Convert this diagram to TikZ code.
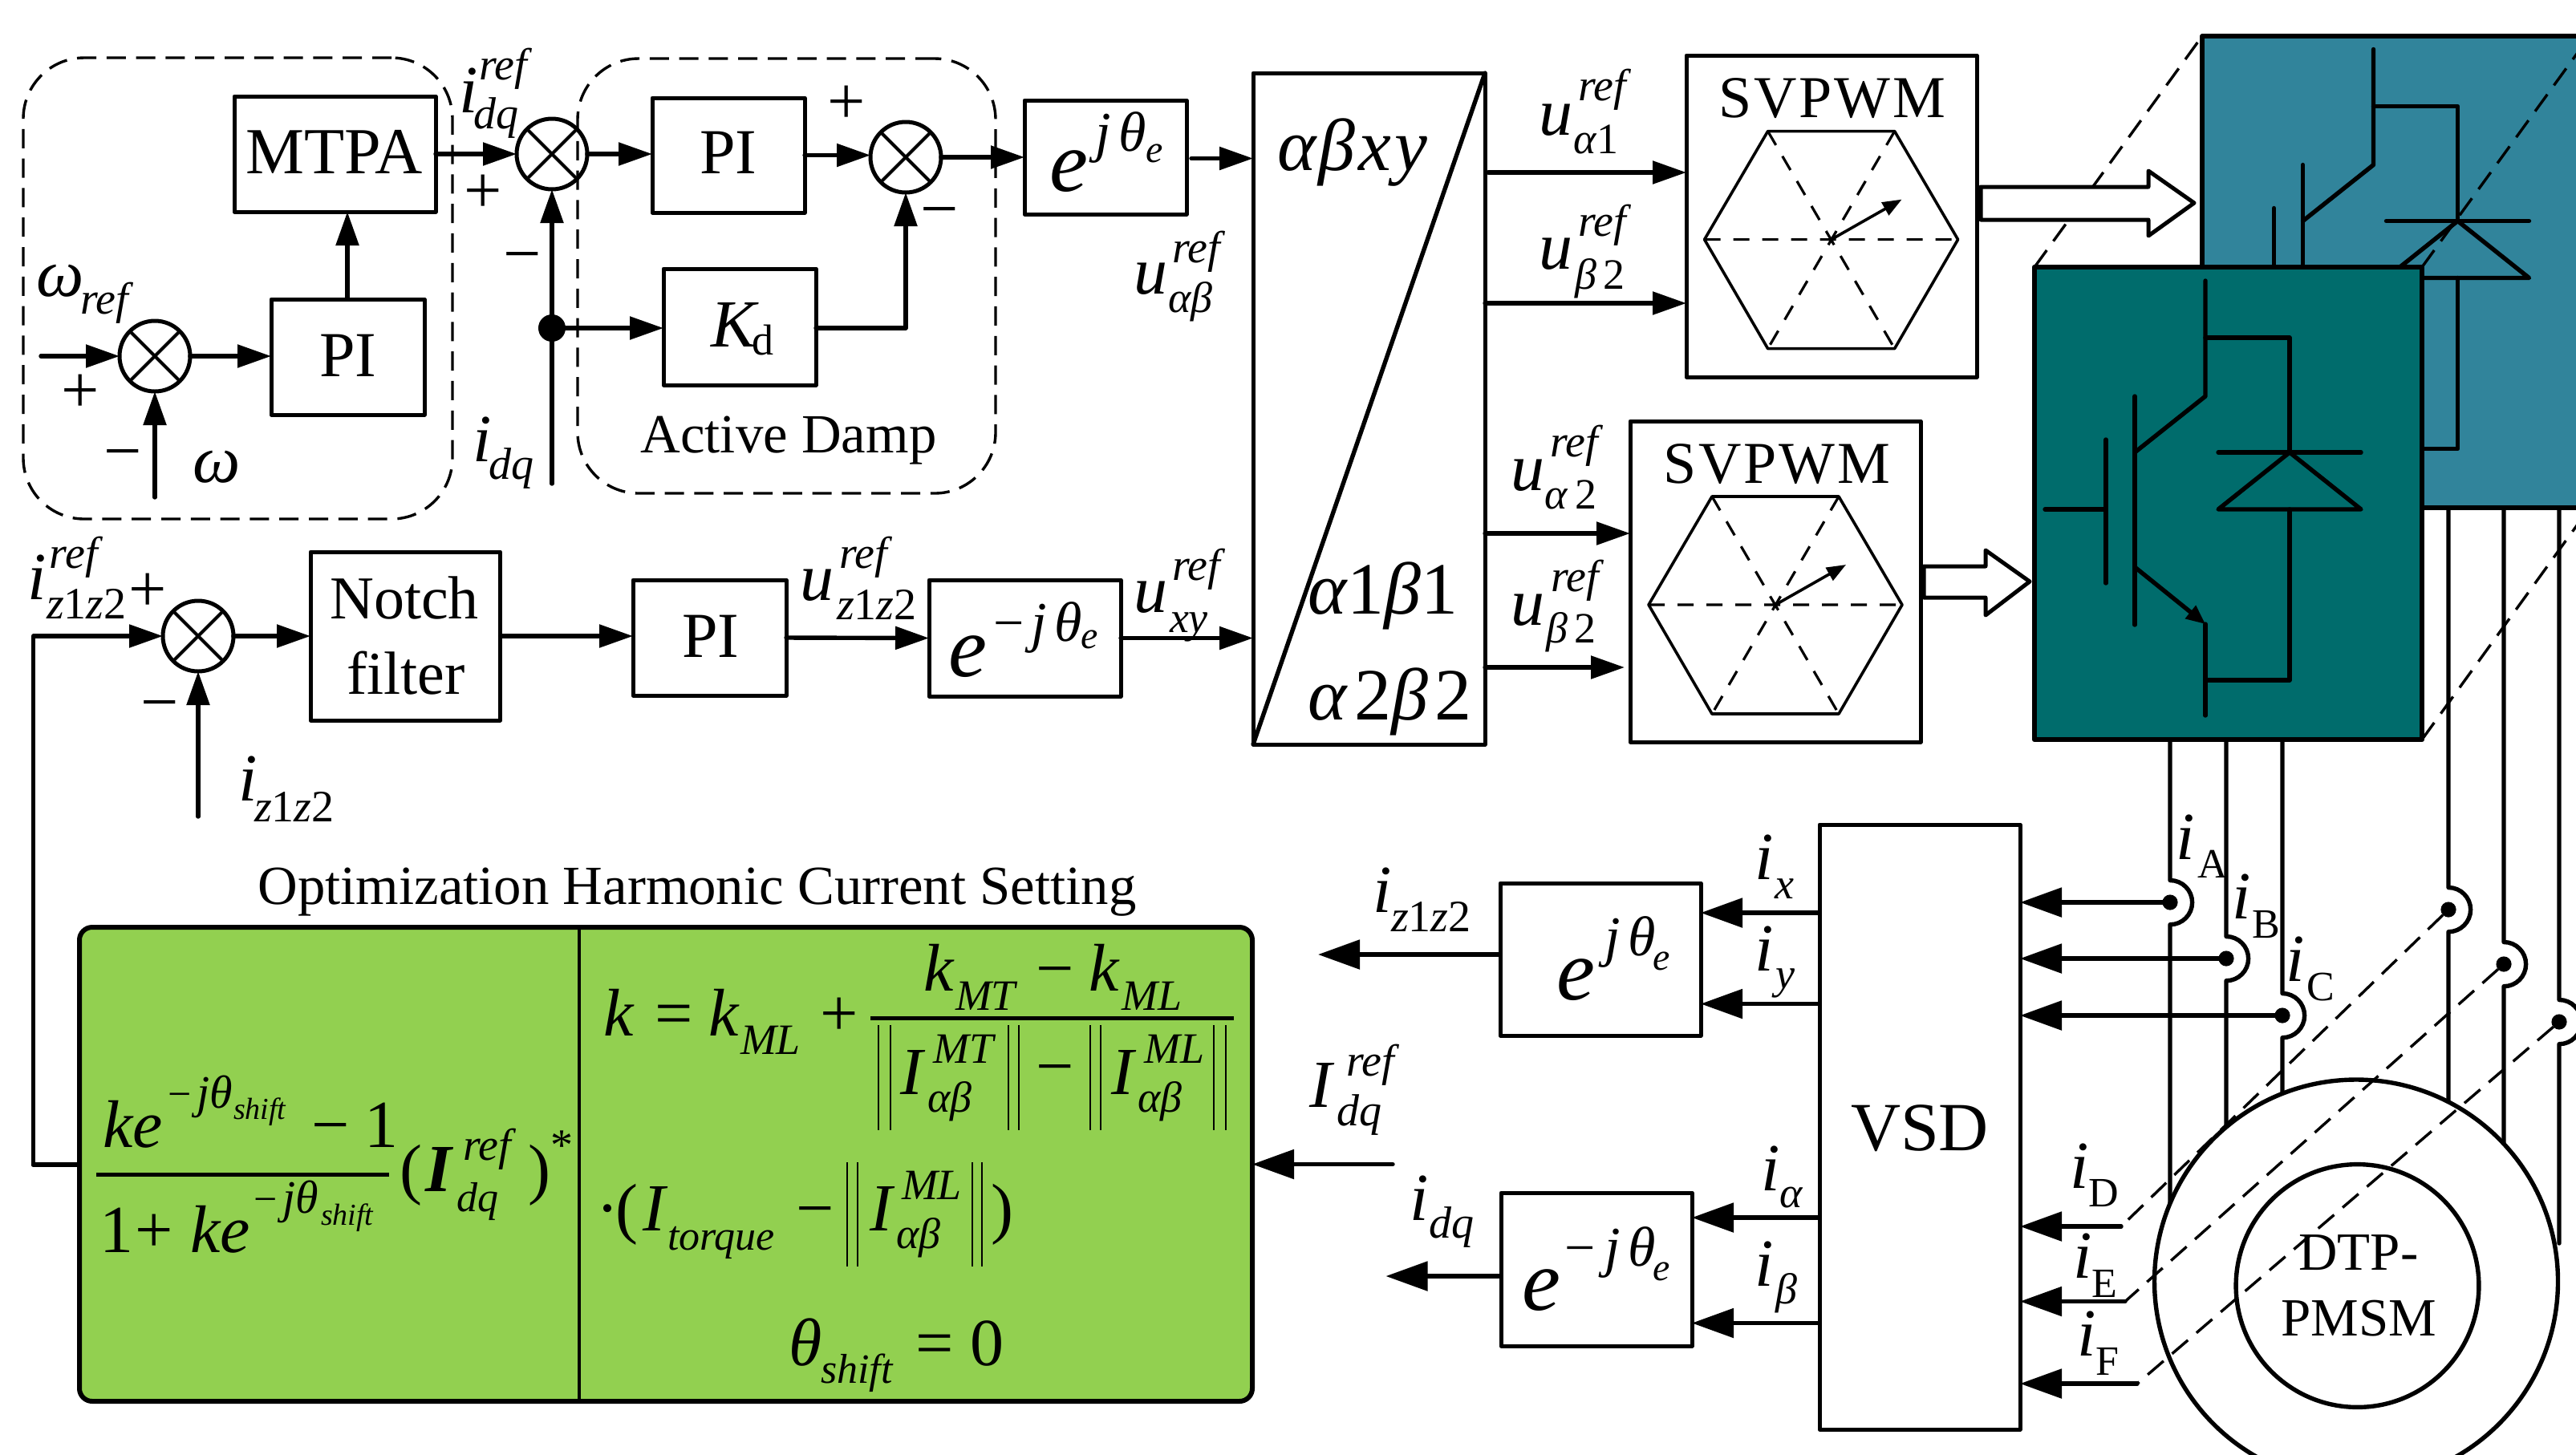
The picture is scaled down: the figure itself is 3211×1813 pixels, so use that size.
\documentclass[tikz,border=0pt]{standalone}
\usepackage{fontspec}
\setmainfont{Liberation Serif}
\usetikzlibrary{arrows.meta,calc}
\definecolor{tealblue}{HTML}{31849B}
\definecolor{tealdark}{HTML}{006C6C}
\definecolor{leaf}{HTML}{92D050}
\newcount\tcnt
\tikzset{
  wire/.style={line width=1.35pt,line cap=round,line join=round},
  arr/.style={wire,-{Triangle[length=10.5pt,width=7pt]}},
  arrb/.style={wire,-{Triangle[length=13pt,width=9pt]}},
  box/.style={draw,line width=1.25pt,inner sep=0pt,outer sep=0pt,line join=round},
  groupbox/.style={box,line width=.85pt,dash pattern=on 6pt off 3.2pt,rounded corners=19pt},
  greenbox/.style={box,line width=1.5pt,fill=leaf,rounded corners=4pt},
  sumj/.style={draw,circle,line width=1.25pt,inner sep=0pt,outer sep=0pt,minimum size=22pt,
    path picture={\draw[line width=1pt] (path picture bounding box.north east)--(path picture bounding box.south west)
      (path picture bounding box.north west)--(path picture bounding box.south east);}},
  dotj/.style={circle,fill=black,inner sep=0pt,outer sep=0pt,minimum size=4.8pt},
  dashln/.style={line width=.85pt,dash pattern=on 6.5pt off 3.5pt},
  hexln/.style={line width=.9pt,line join=round},
  hexdash/.style={line width=.8pt,dash pattern=on 5pt off 4pt},
  txt/.style={inner sep=0pt,outer sep=0pt,anchor=base west},
  txtc/.style={inner sep=0pt,outer sep=0pt,anchor=base},
  txtm/.style={inner sep=0pt,outer sep=0pt,anchor=center},
  hollow/.style={draw,fill=white,line width=1.25pt,line join=round},
}
\newcommand\jt{j\kern2.5ptθ}
% text at baseline-left
\newcommand\T[4]{\global\advance\tcnt by 1 \node[txt,font=\fontsize{#1}{#1}\selectfont] (t\the\tcnt) at (#2,#3) {#4};}
\newcommand\TI[4]{\global\advance\tcnt by 1 \node[txt,font=\fontsize{#1}{#1}\selectfont\itshape] (t\the\tcnt) at (#2,#3) {#4};}
\newcommand\TC[4]{\global\advance\tcnt by 1 \node[txtc,font=\fontsize{#1}{#1}\selectfont] (t\the\tcnt) at (#2,#3) {#4};}
\newcommand\TM[4]{\global\advance\tcnt by 1 \node[txtm,font=\fontsize{#1}{#1}\selectfont] (t\the\tcnt) at (#2,#3) {#4};}
% box by corners
\newcommand\bx[6][]{\pgfmathsetmacro\bw{(#5-#3)*.25}\pgfmathsetmacro\bh{(#6-#4)*.25}%
  \node[box,#1,minimum width=\bw pt,minimum height=\bh pt] (#2) at ({(#3+#5)/2},{(#4+#6)/2}) {};}
% IGBT with diode
\newcommand\igbt[2]{\begin{scope}[shift={(#1,#2)},wire]
  \draw (2749,350)--(2749,494)--(2661,564);
  \draw (2661,494)--(2661,779);
  \draw (2625,548)--(2625,727);
  \draw (2549,635)--(2625,635);
  \draw[-{Triangle[length=6pt,width=5pt]}] (2661,707)--(2749,778);
  \draw (2749,778)--(2749,892);
  \draw (2749,421)--(2854,421)--(2854,564);
  \draw (2854,635)--(2854,848)--(2749,848);
  \draw (2765,564)--(2943,564);
  \draw (2854,564)--(2943,635)--(2765,635)--cycle;
\end{scope}}
% SVPWM hexagon
\newcommand\hexa[3]{\begin{scope}[shift={(#1,#2)}]
  \coordinate (#3c) at (0,0);
  \draw[hexln] (-158,0)--(-79,-135)--(79,-135)--(158,0)--(79,136)--(-79,136)--cycle;
  \draw[hexdash] (-158,0)--(158,0) (-79,-135)--(79,136) (79,-135)--(-79,136);
  \draw[hexln,-{Triangle[length=6pt,width=4.5pt]}] (#3c)--(88,-50);
\end{scope}}
% phase wire with bump
\newcommand\bump[5]{\draw[wire] (#2,0 |- #4) -- (#2,{#3-27.5}) arc[start angle=90,end angle=-90,radius=6.9pt] -- (#2,#5);
  \node[dotj] (#1) at (#2,#3) {};}
\begin{document}
\begin{tikzpicture}[x=.25pt,y=-.25pt]
\path[use as bounding box] (0,0) rectangle (3211,1813);
\clip (0,0) rectangle (3211,1813);
% --- groups
\bx[groupbox]{gA}{29}{72}{564}{647}
\bx[groupbox]{gB}{720}{73}{1241}{615}
% --- top-left blocks
\bx{mtpa}{292}{120}{543}{264}
\bx{piA}{338}{373}{529}{517}
\bx{piB}{813}{122}{1003}{265}
\bx{kd}{827}{335}{1017}{480}
\bx{expA}{1277}{125}{1479}{267}
\node[sumj] (s1) at (193,444) {};
\node[sumj] (s2) at (688,192) {};
\node[sumj] (s3) at (1129,196) {};
\node[dotj,minimum size=8.5pt] (jn) at (688,409) {};
\TC{20.5}{417}{216}{MTPA}
\TC{20}{434}{469}{PI}
\TC{20}{908}{216}{PI}
\TI{21}{886}{432}{K}
\T{13.5}{937}{442}{d}
\TC{17.2}{983}{564}{Active Damp}
\coordinate (wIn) at (51,444);
\coordinate (wOm) at (193,620);
\coordinate (wId) at (688,603);
\draw[arr] (wIn)--(s1.west);
\draw[arr] (s1.east)--(s1 -| piA.west);
\draw[arr] (piA.north -| 433,0)--(mtpa.south -| 433,0);
\draw[arr] (wOm)--(s1.south);
\draw[arr] (mtpa.east)--(s2.west);
\draw[arr] (s2.east)--(s2 -| piB.west);
\draw[arr] (piB.east)--(piB -| s3.west);
\draw[arr] (s3.east)--(s3 -| expA.west);
\draw[arr] (wId)--(s2.south);
\draw[arr] (jn)--(jn -| kd.west);
\draw[arr] (jn -| kd.east)--(jn -| s3)--(s3.south);
\TI{21}{46}{369}{ω}\TI{14}{100}{391}{ref}
\TM{21}{100}{491}{+}\TM{21}{153}{575}{−}
\TI{21}{240}{601}{ω}
\TI{21}{572}{140}{i}\TI{14}{597}{99}{ref}\TI{14}{590}{160}{dq}
\TM{21}{602}{242}{+}\TM{21}{651}{329}{−}
\TI{21}{589}{575}{i}\TI{14}{609}{597}{dq}
\TM{21}{1055}{131}{+}\TM{21}{1171}{273}{−}
% --- exp top
\TI{27}{1308}{238}{e}\TI{17.5}{1365}{188}{\jt}\TI{12}{1428}{202}{e}
% --- alpha beta box
\bx{abx}{1562}{91}{1851}{928}
\draw[wire] (abx.north east)--(abx.south west);
\node[txt,font=\fontsize{23}{23}\selectfont\addfontfeature{LetterSpace=4}] (abA) at (1592,212) {\textit{αβxy}};
\node[txt,font=\fontsize{23}{23}\selectfont] (abB) at (1630,765) {\textit{α}1\textit{β}1};
\node[txt,font=\fontsize{23}{23}\selectfont\addfontfeature{LetterSpace=9}] (abC) at (1630,897) {\textit{α}2\textit{β}2};
\coordinate (eA) at (1485,197.5);
\draw[arr] (eA)--(eA -| abx.west);
\TI{21}{1413}{366}{u}\TI{14}{1461}{327}{ref}\T{13.5}{1456}{389}{\textit{αβ}}
% --- second row
\bx{notch}{387}{688}{623.5}{898}
\bx{piC}{789}{723}{980}{867}
\bx{expB}{1158}{723}{1397}{868}
\node[sumj] (s4) at (247,793) {};
\TC{19}{504}{771}{Notch}
\TC{19}{506}{865}{filter}
\TC{20}{886}{819}{PI}
\TI{27}{1182}{843}{e}\T{17}{1238}{799}{−}\TI{17.5}{1285}{799}{\jt}\TI{12}{1347}{808}{e}
\coordinate (wZ) at (247,1018);
\draw[arr] (s4.east)--(s4 -| notch.west);
\draw[arr] (notch.east)--(notch -| piC.west);
\draw[arr] (piC.east)--(expB.west);
\draw[arr] (expB.east)--(expB -| abx.west);
\draw[arr] (wZ)--(s4.south);
\TI{21}{35}{747}{i}\TI{14}{62}{708}{ref}\node[txt,font=\fontsize{14}{14}\selectfont] (zA) at (58,771) {\textit{z}1\textit{z}2};
\TM{21}{184}{739}{+}\TM{21}{199}{888}{−}
\TI{21}{297}{998}{i}\node[txt,font=\fontsize{14}{14}\selectfont] (zB) at (317,1024) {\textit{z}1\textit{z}2};
\TI{21}{997.5}{748}{u}\TI{14}{1046}{708}{ref}\node[txt,font=\fontsize{14}{14}\selectfont] (zC) at (1043,772) {\textit{z}1\textit{z}2};
\TI{21}{1413}{763}{u}\TI{14}{1461}{723}{ref}\TI{13.5}{1458}{788}{xy}
% --- SVPWM
\bx{svA}{2102}{69}{2464}{470}
\bx{svB}{2032}{525}{2394}{925}
\hexa{2282.6}{298.6}{hA}
\hexa{2213}{754}{hB}
\node[txtc,font=\fontsize{18.5}{18.5}\selectfont\addfontfeature{LetterSpace=4}] (svTa) at (2284,146.5) {SVPWM};
\node[txtc,font=\fontsize{18.5}{18.5}\selectfont\addfontfeature{LetterSpace=4}] (svTb) at (2215,602) {SVPWM};
\coordinate (uA) at (1855,215);\coordinate (uB) at (1851,378);\coordinate (uC) at (1851,665);\coordinate (uD) at (1851,832);
\draw[arr] (uA)--(uA -| svA.west);
\draw[arr] (uB)--(uB -| svA.west);
\draw[arr] (uC)--(uC -| svB.west);
\draw[arr] (uD)--(2025,832);
\TI{21}{1918}{168}{u}\TI{14}{1967}{125}{ref}\node[txt,font=\fontsize{13.5}{13.5}\selectfont] (sbA) at (1961,191) {\textit{α}1};
\TI{21}{1918}{335}{u}\TI{14}{1967}{294}{ref}\node[txt,font=\fontsize{13.5}{13.5}\selectfont] (sbB) at (1963,360) {\textit{β}\,2};
\TI{21}{1883}{611}{u}\TI{14}{1932}{569.5}{ref}\node[txt,font=\fontsize{13.5}{13.5}\selectfont] (sbC) at (1925,634) {\textit{α}\,2};
\TI{21}{1883}{779}{u}\TI{14}{1933}{737}{ref}\node[txt,font=\fontsize{13.5}{13.5}\selectfont] (sbD) at (1927,801) {\textit{β}\,2};
% --- inverters
\draw[box,fill=tealblue,line width=1.35pt] (2745,45) rectangle (3280,633);
\coordinate (blueB) at (2745,633);
\igbt{209.5}{-288.5}
\draw[dashln] (2536,333)--(2745,45);
\draw[dashln] (3019,333)--(3228,45);
\bx[fill=tealdark,line width=1.6pt]{dark}{2536}{333}{3019}{922}
\igbt{0}{0}
\draw[dashln] (3019,922)--(3228,633);
\draw[hollow] (2469,233)--(2678,233)--(2678,213)--(2735,253)--(2678,294)--(2678,274)--(2469,274)--cycle;
\draw[hollow] (2398,706)--(2475,706)--(2475,686)--(2530,725)--(2475,767)--(2475,745)--(2398,745)--cycle;
% --- VSD and phase wires
\bx{vsd}{2268}{1028}{2518}{1782}
\TC{21.5}{2393}{1434}{VSD}
\bump{dA}{2705}{1125}{dark.south}{1600}
\bump{dB}{2775}{1195}{dark.south}{1600}
\bump{dC}{2845}{1266}{dark.south}{1600}
\bump{dD}{3052}{1134}{blueB}{1600}
\bump{dE}{3121}{1202}{blueB}{1600}
\bump{dF}{3190}{1274}{blueB}{1550}
\node[draw,circle,fill=white,line width=1.35pt,inner sep=0pt,minimum size=125.75pt] (motor) at (2937,1597.5) {};
\node[draw,circle,line width=1.35pt,inner sep=0pt,minimum size=75.7pt] (rotor) at (2938.5,1603) {};
\TC{16.75}{2940}{1583}{DTP-}
\TC{16.75}{2940}{1665}{PMSM}
\coordinate (kD) at (2644,1529);\coordinate (kE) at (2649,1622.5);\coordinate (kF) at (2664,1725);
\draw[dashln] (dD)--(kD);\draw[dashln] (dE)--(kE);\draw[dashln] (dF)--(kF);
\draw[arrb] (dA)--(dA -| vsd.east);
\draw[arrb] (dB)--(dB -| vsd.east);
\draw[arrb] (dC)--(dC -| vsd.east);
\draw[arrb] (kD)--(kD -| vsd.east);
\draw[arrb] (kE)--(kE -| vsd.east);
\draw[arrb] (kF)--(kF -| vsd.east);
\TI{21}{2712}{1071}{i}\T{13}{2739}{1094}{A}
\TI{21}{2782}{1145}{i}\T{13}{2807}{1169}{B}
\TI{21}{2849}{1223.5}{i}\T{13}{2875}{1247}{C}
\TI{21}{2580}{1481}{i}\T{13}{2603}{1504}{D}
\TI{21}{2584}{1593}{i}\T{13}{2607}{1617}{E}
\TI{21}{2589}{1690}{i}\T{13}{2612}{1714}{F}
% --- lower demod
\bx{expC}{1870}{1101}{2120}{1291}
\bx{expD}{1871}{1487}{2109}{1678}
\TI{27}{1940}{1246}{e}\TI{17.5}{2000}{1191}{\jt}\TI{12}{2060}{1209}{e}
\TI{27}{1897}{1633}{e}\T{17}{1950}{1578}{−}\TI{17.5}{2000}{1578}{\jt}\TI{12}{2060}{1596}{e}
\coordinate (vA) at (2268,1138);\coordinate (vB) at (2268,1251.5);\coordinate (vC) at (2268,1518);\coordinate (vD) at (2268,1649.5);
\coordinate (oA) at (1643,1190);\coordinate (oB) at (1727.5,1591);\coordinate (oC) at (1736,1451.5);
\draw[arrb] (vA)--(vA -| expC.east);
\draw[arrb] (vB)--(vB -| expC.east);
\draw[arrb] (vC)--(vC -| expD.east);
\draw[arrb] (vD)--(vD -| expD.east);
\draw[arrb] (oA -| expC.west)--(oA);
\draw[arrb] (oB -| expD.west)--(oB);
\TI{21}{1711}{1137}{i}\node[txt,font=\fontsize{14}{14}\selectfont] (zD) at (1734,1161) {\textit{z}1\textit{z}2};
\TI{21}{2187}{1096}{i}\TI{13.5}{2212}{1120}{x}
\TI{21}{2187}{1210}{i}\TI{13.5}{2213}{1232}{y}
\TI{21}{1632}{1380}{I}\TI{14}{1678}{1341}{ref}\TI{14}{1666}{1403}{dq}
\TI{21}{1757}{1521}{i}\TI{14}{1781}{1543}{dq}
\TI{21}{2195}{1484}{i}\TI{13.5}{2218}{1505}{α}
\TI{21}{2187}{1603}{i}\TI{13.5}{2213}{1625}{β}
% --- green block
\TC{17.2}{869}{1127}{Optimization Harmonic Current Setting}
\bx[greenbox]{green}{99}{1156}{1561}{1747}
\draw[line width=1pt] (722,0 |- green.north)--(722,0 |- green.south);
\coordinate (fb) at (41.5,1452);
\draw[wire] (green.west |- fb)--(fb);
\draw[arr] (fb)--(fb |- s4)--(s4.west);
\draw[arrb] (oC)--(oC -| green.east);
% left fraction
\draw[line width=1.25pt] (120,1464.6)--(485,1464.6);
\TI{21}{128}{1430}{ke}\T{13}{209}{1381}{−}\TI{14.5}{245}{1381}{jθ}\TI{9.5}{291}{1395.5}{shift}
\T{21}{388}{1430}{−}\T{21}{454}{1430}{1}
\T{21}{124}{1561}{1}\T{21}{168}{1561}{+}\TI{21}{237}{1561}{ke}\T{13}{316}{1512}{−}\TI{14.5}{352}{1512}{jθ}\TI{9.5}{400}{1527}{shift}
\T{21}{498}{1485.5}{(}\node[txt,font=\fontsize{21}{21}\selectfont\bfseries\itshape] (bI) at (530,1485.5) {I};
\TI{14}{577}{1446.6}{ref}\TI{13}{569}{1510}{dq}
\T{21}{658}{1485.5}{)}\T{14}{686}{1446}{*}
% right formula
\TI{21}{752}{1291}{k}\T{21}{816}{1291}{=}\TI{21}{883}{1291}{k}\TI{13.5}{923}{1314}{ML}\T{21}{1022}{1291}{+}
\draw[line width=1.25pt] (1085,1269)--(1538,1269);
\TI{21}{1151}{1235}{k}\TI{13.5}{1191}{1259}{MT}\T{21}{1291}{1235}{−}\TI{21}{1357}{1235}{k}\TI{13.5}{1398}{1259}{ML}
\draw[line width=.7pt] (1095,1278)--(1095,1409) (1110,1278)--(1110,1409)
  (1257,1278)--(1257,1409) (1270,1278)--(1270,1409)
  (1359,1278)--(1359,1409) (1372,1278)--(1372,1409)
  (1513,1278)--(1513,1409) (1528,1278)--(1528,1409);
\TI{21}{1122}{1364}{I}\TI{13.5}{1163}{1325}{MT}\TI{13.5}{1156}{1386}{αβ}
\T{21}{1291}{1357}{−}
\TI{21}{1385}{1364}{I}\TI{13.5}{1426}{1325}{ML}\TI{13.5}{1418}{1386}{αβ}
\T{21}{743}{1534}{·}\T{21}{767}{1534}{(}\TI{21}{801}{1534}{I}\TI{13}{832}{1558}{torque}\T{21}{992}{1534}{−}
\draw[line width=.7pt] (1056,1449)--(1056,1579) (1069,1449)--(1069,1579)
  (1212,1449)--(1212,1579) (1224,1449)--(1224,1579);
\TI{21}{1084}{1534}{I}\TI{13.5}{1124}{1495}{ML}\TI{13.5}{1117}{1556}{αβ}
\T{21}{1235}{1534}{)}
\TI{21}{983}{1702}{θ}\TI{13}{1023}{1724}{shift}\T{21}{1141}{1702}{=}\T{21}{1209}{1702}{0}
\end{tikzpicture}
\end{document}
